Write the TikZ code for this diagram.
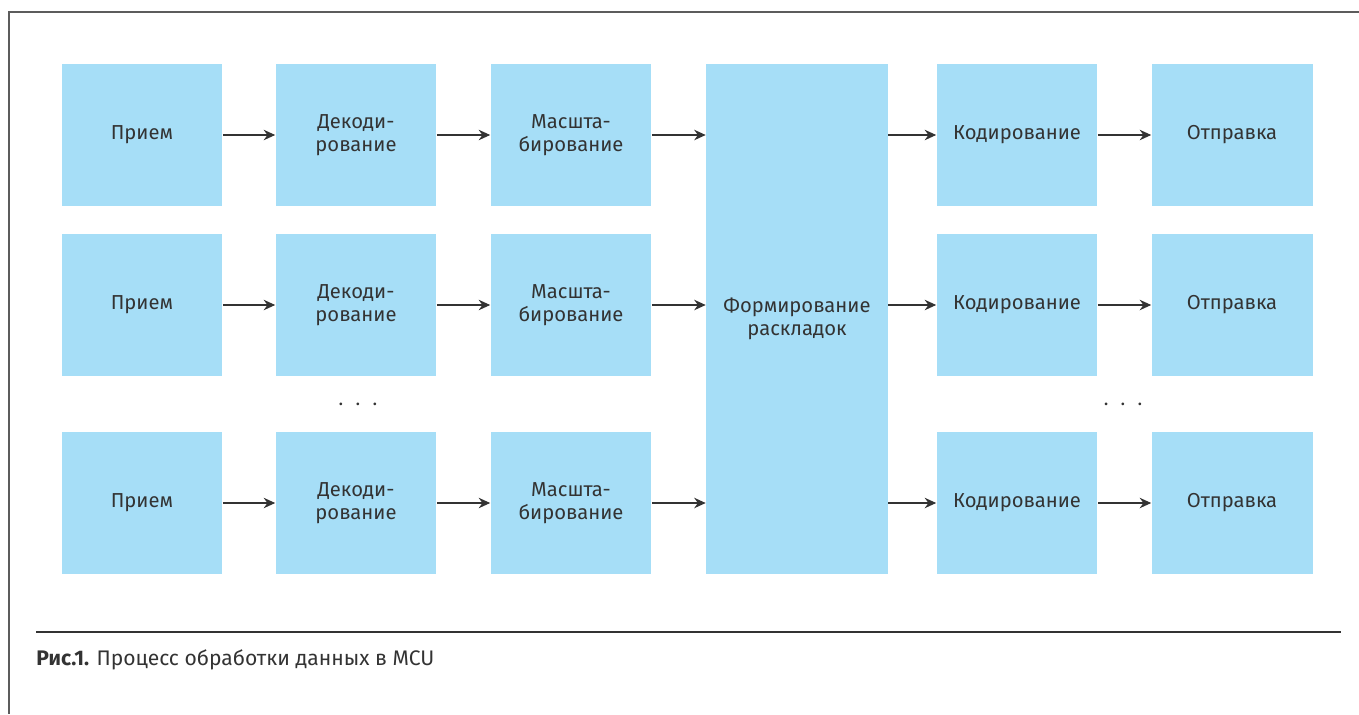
\documentclass[tikz,border=0pt]{standalone}
\usepackage{fontspec}
\setmainfont{Fira Sans}
\usetikzlibrary{arrows.meta,positioning}
\definecolor{blockblue}{RGB}{166,222,247}
\definecolor{inkgray}{RGB}{51,51,51}
\tikzset{
  stage/.style={fill=blockblue, minimum width=3.22cm, minimum height=2.84cm,
                align=center, inner sep=0pt, text=inkgray,
                font=\fontsize{11.5}{13.2}\selectfont},
  msg/.style={-{Stealth[length=2.3mm,width=2.1mm]}, line width=0.65pt,
              draw=inkgray},
  frameline/.style={draw=inkgray!80, line width=1.1pt},
  rule/.style={draw=inkgray, line width=0.7pt},
  dots/.style={anchor=base, text=inkgray, inner sep=0pt,
               font=\fontsize{11}{13.5}\selectfont},
}

\begin{document}
\begin{tikzpicture}[x=0.02cm, y=-0.02cm]
\useasboundingbox (0,0) rectangle (1359,714);

% frame of the figure
\coordinate (ftr) at (1359,12);
\coordinate (ftl) at (9,12);
\coordinate (fbl) at (9,714);
\draw[frameline] (ftr) -- (ftl) -- (fbl);

% common mixing stage
\node[stage, minimum width=3.64cm, minimum height=10.2cm] (mix) at (797,319)
  {Формирование\\раскладок};

% input and output chains
\foreach \r/\y in {1/135, 2/305, 3/503} {
  \node[stage] (rx\r) at (142,\y) {Прием};
  \node[stage] (dec\r) at (356,\y) {Декоди-\\рование};
  \node[stage] (sc\r) at (571,\y) {Масшта-\\бирование};
  \node[stage] (enc\r) at (1017,\y) {Кодирование};
  \node[stage] (tx\r) at (1232,\y) {Отправка};
  \draw[msg] (rx\r) -- (dec\r);
  \draw[msg] (dec\r) -- (sc\r);
  \draw[msg] (sc\r) -- (sc\r -| mix.west);
  \draw[msg] (enc\r -| mix.east) -- (enc\r);
  \draw[msg] (enc\r) -- (tx\r);
}

\node[dots] (gapin) at (358,405) {.\hskip 7pt.\hskip 7pt.};
\node[dots] (gapout) at (1123,405) {.\hskip 7pt.\hskip 7pt.};

% caption
\coordinate (rl) at (36,632);
\coordinate (rr) at (1341,632);
\draw[rule] (rl) -- (rr);
\node[anchor=base west, inner sep=0pt, text=inkgray,
      font=\fontsize{12}{14}\selectfont] (cap) at (36,665)
  {\textbf{Рис.1.} Процесс обработки данных в MCU};

\end{tikzpicture}
\end{document}
